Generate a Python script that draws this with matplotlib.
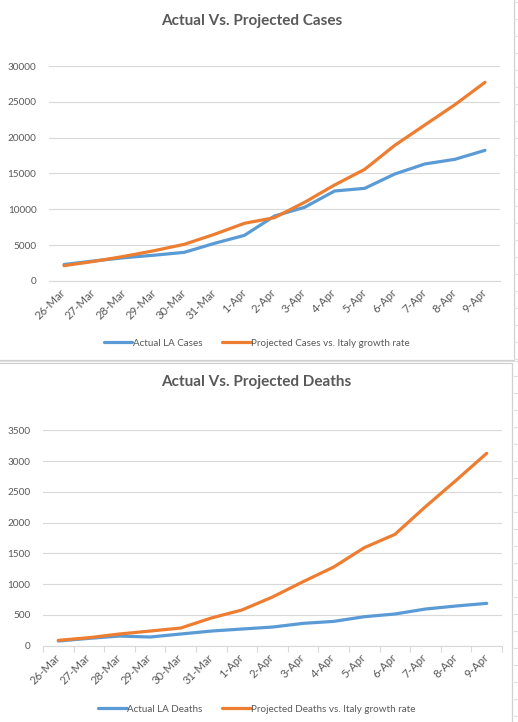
import matplotlib
matplotlib.use("Agg")
from matplotlib import pyplot as plt
from matplotlib.lines import Line2D
from matplotlib.patches import Rectangle

plt.rcParams['font.family'] = ['Lato', 'DejaVu Sans']

# data
dates = ["26-Mar", "27-Mar", "28-Mar", "29-Mar", "30-Mar", "31-Mar", "1-Apr", "2-Apr",
         "3-Apr", "4-Apr", "5-Apr", "6-Apr", "7-Apr", "8-Apr", "9-Apr"]

actual_cases = [2300, 2800, 3250, 3600, 4000, 5250, 6370, 9070,
                10280, 12560, 12930, 14930, 16330, 16980, 18230]
projected_cases = [2140, 2740, 3440, 4230, 5120, 6510, 8050, 8840,
                   10980, 13400, 15580, 18930, 21770, 24600, 27720]

actual_deaths = [76, 119, 157, 141, 190, 238, 271, 303,
                 363, 395, 471, 515, 596, 645, 688]
projected_deaths = [87, 130, 190, 238, 287, 450, 580, 791,
                    1040, 1278, 1593, 1809, 2259, 2687, 3126]

cases_ticks = [0, 5000, 10000, 15000, 20000, 25000, 30000]
deaths_ticks = [0, 500, 1000, 1500, 2000, 2500, 3000, 3500]

BLUE = "#5B9BD5"
ORANGE = "#ED7D31"
TEXT = "#595959"
GRID = "#D9D9D9"

W, H = 518, 722
fig = plt.figure(figsize=(W / 100, H / 100), dpi=100)
fig.patch.set_facecolor("white")

# background: spreadsheet cells + chart borders, in pixel coords
bg = fig.add_axes([0, 0, 1, 1])
bg.set_xlim(0, W)
bg.set_ylim(H, 0)
bg.axis("off")
for y in range(2, H, 17):
    bg.add_line(Line2D([514, W], [y, y], color="#E1E1E1", lw=0.8))
bg.add_line(Line2D([0, W], [361, 361], color="#E1E1E1", lw=0.8))
bg.add_patch(Rectangle((-2, -2), 516, 362, fill=True, facecolor="white",
                       edgecolor="#D0D0D0", lw=0.9))
bg.add_patch(Rectangle((-2, 362.5), 514, 362, fill=True, facecolor="white",
                       edgecolor="#D0D0D0", lw=0.9))


def px_axes(left, top, right, bottom):
    return fig.add_axes([left / W, 1 - bottom / H, (right - left) / W, (bottom - top) / H])


def style(ax, ticks, minor_ticks):
    x = list(range(len(dates)))
    ax.set_xlim(-0.5, len(dates) - 0.5)
    ax.set_ylim(ticks[0], ticks[-1])
    ax.set_yticks(ticks)
    ax.set_yticklabels([str(t) for t in ticks])
    ax.set_xticks(x)
    ax.set_xticklabels(dates, rotation=45, ha="right", va="center",
                       rotation_mode="anchor")
    ax.grid(axis="y", color=GRID, lw=0.8)
    ax.set_axisbelow(True)
    for s in ["top", "right", "left"]:
        ax.spines[s].set_visible(False)
    ax.spines["bottom"].set_color(GRID)
    ax.spines["bottom"].set_linewidth(0.8)
    ax.tick_params(axis="y", length=0, pad=9, labelsize=7.2, labelcolor=TEXT)
    ax.tick_params(axis="x", which="major", length=0, pad=7, labelsize=8.2, labelcolor=TEXT)
    if minor_ticks:
        ax.set_xticks([i - 0.5 for i in range(len(dates) + 1)], minor=True)
        ax.tick_params(axis="x", which="minor", length=4, color=GRID, width=0.8)
    ax.set_facecolor("none")
    return x


# top chart: cases
ax1 = px_axes(49, 66, 500, 281)
x = style(ax1, cases_ticks, False)
ax1.plot(x, actual_cases, color=BLUE, lw=2.3, label="Actual LA Cases", solid_capstyle="round")
ax1.plot(x, projected_cases, color=ORANGE, lw=2.3, label="Projected Cases vs. Italy growth rate",
         solid_capstyle="round")
fig.text(252 / W, 1 - 21 / H, "Actual Vs. Projected Cases", ha="center", va="center",
         fontsize=11, fontweight="bold", color=TEXT)
ax1.legend(loc="center", bbox_to_anchor=(257 / W, 1 - 343 / H), bbox_transform=fig.transFigure,
           ncol=2, frameon=False, fontsize=7.1, labelcolor=TEXT, handlelength=2.9,
           handletextpad=0.05, columnspacing=2.0)

# bottom chart: deaths
ax2 = px_axes(43, 430.3, 502, 645.7)
x = style(ax2, deaths_ticks, True)
ax2.plot(x, actual_deaths, color=BLUE, lw=2.3, label="Actual LA Deaths", solid_capstyle="round")
ax2.plot(x, projected_deaths, color=ORANGE, lw=2.3, label="Projected Deaths vs. Italy growth rate",
         solid_capstyle="round")
fig.text(256 / W, 1 - 382 / H, "Actual Vs. Projected Deaths", ha="center", va="center",
         fontsize=11, fontweight="bold", color=TEXT)
ax2.legend(loc="center", bbox_to_anchor=(257 / W, 1 - 709 / H), bbox_transform=fig.transFigure,
           ncol=2, frameon=False, fontsize=7.1, labelcolor=TEXT, handlelength=2.9,
           handletextpad=0.05, columnspacing=2.0)

fig.savefig("out.png", dpi=100)
